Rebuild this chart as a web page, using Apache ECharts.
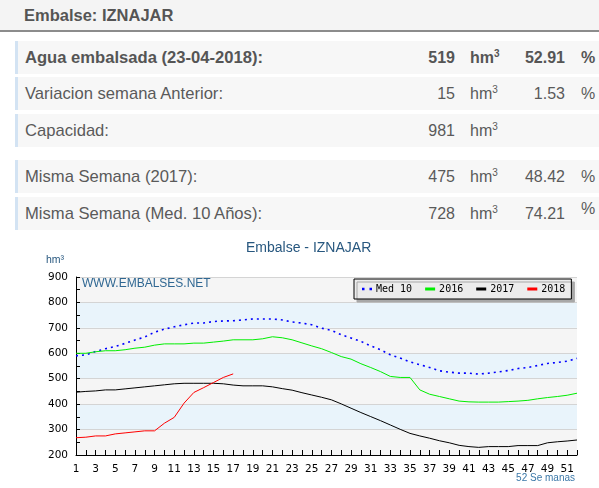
<!DOCTYPE html>
<html>
<head>
<meta charset="utf-8">
<script src="https://cdn.jsdelivr.net/npm/echarts@6/dist/echarts.min.js"></script>
<style>
body { margin: 0; width: 599px; height: 488px; background: #fff; position: relative; overflow: hidden;
    font-family: "Liberation Sans", Arial, sans-serif; color: #5a5a5a; }
.head { position: absolute; left: 0; top: 0; width: 599px; height: 30px; background: #f4f4f4;
    border-bottom: 2px solid #8c8c8c; }
.head span { position: absolute; left: 24px; top: 0; line-height: 30px; font-size: 16.5px; font-weight: bold; color: #555; }
.row { position: absolute; left: 15px; width: 584px; height: 33px; background: #f7f7f7;
    border-left: 3px solid #d3e3f3; box-sizing: border-box; font-size: 16px; line-height: 33px; }
.row.b { font-weight: bold; color: #555; }
.row .lbl { position: absolute; left: 7px; font-size: 16.6px; }
.row .num { position: absolute; right: 144px; text-align: right; }
.row .unit { position: absolute; left: 452px; }
.row .pct { position: absolute; right: 34px; text-align: right; }
.row .pc { position: absolute; left: 563px; }
.row .pc.up { top: -5px; }
sup { font-size: 10px; vertical-align: 6px; line-height: 0; }
#chart { position: absolute; left: 0; top: 232px; width: 599px; height: 256px; }
</style>
</head>
<body>
<div class="head"><span>Embalse: IZNAJAR</span></div>
<div class="row b" style="top:41px"><span class="lbl">Agua embalsada (23-04-2018):</span><span class="num">519</span><span class="unit">hm<sup>3</sup></span><span class="pct">52.91</span><span class="pc">%</span></div>
<div class="row" style="top:77px"><span class="lbl">Variacion semana Anterior:</span><span class="num">15</span><span class="unit">hm<sup>3</sup></span><span class="pct">1.53</span><span class="pc">%</span></div>
<div class="row" style="top:114px"><span class="lbl">Capacidad:</span><span class="num">981</span><span class="unit">hm<sup>3</sup></span></div>
<div class="row" style="top:160px"><span class="lbl">Misma Semana (2017):</span><span class="num">475</span><span class="unit">hm<sup>3</sup></span><span class="pct">48.42</span><span class="pc">%</span></div>
<div class="row" style="top:197px"><span class="lbl">Misma Semana (Med. 10 Años):</span><span class="num">728</span><span class="unit">hm<sup>3</sup></span><span class="pct">74.21</span><span class="pc up">%</span></div>
<div id="chart"></div>
<script>
// semanas del año hidrológico
const weeks = ['1', '2', '3', '4', '5', '6', '7', '8', '9', '10', '11', '12', '13', '14', '15', '16', '17', '18', '19', '20',
    '21', '22', '23', '24', '25', '26', '27', '28', '29', '30', '31', '32', '33', '34', '35', '36', '37', '38', '39', '40',
    '41', '42', '43', '44', '45', '46', '47', '48', '49', '50', '51', '52'];

const med10 = [590, 594, 607, 618, 627, 639, 652, 664, 683, 695, 704, 712, 719, 719, 725, 727, 728, 731, 735, 735,
    735, 731, 723, 719, 712, 699, 690, 673, 660, 647, 629, 614, 594, 581, 566, 555, 544, 531, 526, 522,
    522, 518, 522, 527, 532, 540, 544, 552, 560, 564, 569, 580];
const y2016 = [600, 600, 606, 610, 610, 614, 620, 624, 632, 637, 637, 637, 640, 640, 644, 648, 653, 653, 653, 657,
    665, 661, 653, 641, 629, 618, 603, 587, 577, 559, 544, 528, 509, 505, 505, 456, 439, 430, 421, 412,
    409, 408, 408, 408, 410, 412, 415, 421, 426, 430, 435, 443];
const y2017 = [447, 450, 452, 456, 456, 460, 464, 468, 472, 476, 480, 482, 482, 482, 482, 480, 475, 472, 472, 472,
    468, 461, 455, 445, 436, 427, 417, 401, 384, 367, 351, 335, 318, 301, 285, 275, 266, 256, 248, 238,
    233, 230, 233, 233, 233, 237, 237, 237, 248, 252, 255, 259];
const y2018 = [268, 270, 275, 275, 283, 287, 291, 295, 295, 325, 348, 404, 446, 465, 485, 505, 519];

const yTicks = { min: 200, max: 900, step: 100 };

const chart = echarts.init(document.getElementById('chart'));

function line(name, data, color, type) {
    return {
        name: name,
        type: 'line',
        data: data,
        showSymbol: false,
        symbol: 'none',
        smooth: false,
        silent: true,
        color: color,
        lineStyle: { color: color, width: type ? 1.6 : 1, type: type || 'solid' },
    };
}

chart.setOption({
    animation: false,
    title: {
        text: 'Embalse - IZNAJAR',
        left: 246,
        top: 9,
        padding: 0,
        textStyle: { fontFamily: 'Liberation Sans', fontSize: 14, fontWeight: 'normal', color: '#27577f' },
    },
    legend: {
        left: 354,
        top: 47,
        orient: 'horizontal',
        itemWidth: 10,
        itemHeight: 3,
        itemGap: 13,
        padding: [5, 6, 5, 8],
        borderColor: '#000',
        borderWidth: 1,
        backgroundColor: '#ececec',
        shadowColor: '#a8a8a8',
        shadowBlur: 0,
        shadowOffsetX: 3,
        shadowOffsetY: 3,
        textStyle: { fontFamily: 'DejaVu Sans Mono', fontSize: 10, color: '#000', padding: [0, 0, 0, -1] },
        data: [
            { name: 'Med 10', icon: 'path://M0,0h2v2h-2zM6,0h2v2h-2z' },
            { name: '2016', icon: 'rect' },
            { name: '2017', icon: 'rect' },
            { name: '2018', icon: 'rect' },
        ],
    },
    grid: { left: 76, right: 22, top: 45, bottom: 33 },
    xAxis: {
        type: 'category',
        data: weeks,
        boundaryGap: false,
        axisLine: { lineStyle: { color: '#000', width: 1 } },
        axisTick: { inside: true, length: 5, interval: 0, lineStyle: { color: '#000' } },
        axisLabel: { interval: 1, margin: 9, fontFamily: 'DejaVu Sans', fontSize: 10.5, color: '#000' },
        splitLine: { show: false },
    },
    yAxis: {
        type: 'value',
        min: yTicks.min,
        max: yTicks.max,
        interval: yTicks.step,
        axisLine: { show: true, lineStyle: { color: '#000', width: 1 } },
        axisTick: { show: true, inside: true, length: 4, lineStyle: { color: '#000' } },
        minorTick: { show: true, splitNumber: 2, length: 4, lineStyle: { color: '#000' } },
        axisLabel: { margin: 8, fontFamily: 'DejaVu Sans', fontSize: 10.5, color: '#000' },
        splitLine: { lineStyle: { color: '#d4d4d4', width: 1 } },
        splitArea: { show: true, areaStyle: { color: ['#f5f5f5', '#e9f4fb'] } },
    },
    graphic: [
        {
            type: 'text', left: 46, top: 23,
            style: { text: 'hm³', fontFamily: 'Liberation Sans', fontSize: 10.5, fill: '#27577f' },
        },
        {
            type: 'text', left: 82, top: 46, z: 10,
            style: { text: 'WWW.EMBALSES.NET', fontFamily: 'Liberation Sans', fontSize: 12, fill: '#2f6792' },
        },
        {
            type: 'text', right: 24, top: 241,
            style: { text: '52 Se manas', fontFamily: 'Liberation Sans', fontSize: 10, fill: '#3b78a8' },
        },
    ],
    series: [
        line('Med 10', med10, '#0000ff', [2, 4]),
        line('2016', y2016, '#00ee00'),
        line('2017', y2017, '#000000'),
        line('2018', y2018, '#ff0000'),
    ],
});
</script>
</body>
</html>
